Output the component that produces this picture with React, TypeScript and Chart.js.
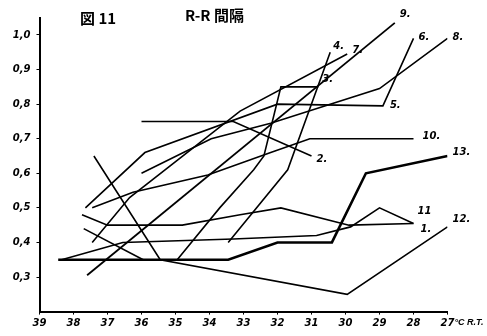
import { useEffect, useRef } from 'react';
import { Chart, registerables } from 'chart.js';
Chart.register(...registerables);

const X_TICKS = [39, 38, 37, 36, 35, 34, 33, 32, 31, 30, 29, 28, 27];
const Y_TICKS = [0.3, 0.4, 0.5, 0.6, 0.7, 0.8, 0.9, 1.0];

// [temperature °C, R-R interval s]
const LINE_1 = [[38.35, 0.35], [36.55, 0.40], [33.3, 0.41], [30.85, 0.42], [29.85, 0.445], [29.0, 0.50], [28.0, 0.455]];
const LINE_2 = [[36.0, 0.75], [33.3, 0.75], [31.0, 0.65]];
const LINE_3 = [[34.95, 0.35], [33.7, 0.50], [32.7, 0.61], [32.4, 0.65], [31.9, 0.85], [30.8, 0.85]];
const LINE_4 = [[33.45, 0.40], [31.7, 0.61], [30.45, 0.95]];
const LINE_X = [[37.7, 0.44], [35.95, 0.35]];
const LINE_6 = [[37.65, 0.50], [35.9, 0.66], [32.0, 0.80], [28.9, 0.795], [28.0, 0.99]];
const LINE_7 = [[37.45, 0.40], [36.35, 0.53], [33.1, 0.78], [29.95, 0.945]];
const LINE_8 = [[36.0, 0.60], [33.95, 0.70], [32.2, 0.745], [30.45, 0.80], [29.0, 0.845], [27.0, 0.99]];
const LINE_9 = [[37.6, 0.305], [28.55, 1.035]];
const LINE_10 = [[37.45, 0.50], [36.25, 0.545], [34.05, 0.595], [32.2, 0.66], [31.05, 0.70], [28.0, 0.70]];
const LINE_11 = [[37.75, 0.48], [37.0, 0.45], [34.8, 0.45], [33.1, 0.48], [31.9, 0.50], [29.9, 0.45], [28.0, 0.455]];
const LINE_12 = [[37.4, 0.65], [35.45, 0.35], [29.95, 0.25], [27.0, 0.445]];
const LINE_13 = [[38.45, 0.35], [33.45, 0.35], [32.0, 0.40], [30.4, 0.40], [29.4, 0.60], [27.0, 0.65]];

const SERIES = [LINE_1, LINE_2, LINE_3, LINE_4, LINE_X, LINE_6, LINE_7, LINE_8, LINE_9, LINE_10, LINE_11, LINE_12, LINE_13];
const WIDTHS = [1.6, 1.6, 1.6, 1.6, 1.6, 1.6, 1.6, 1.6, 1.8, 1.6, 1.6, 1.6, 2.6];

// line labels: text, dataset index, point index (-1 = last), pixel offset
const LABELS = [
  { text: '1.', ds: 0, pt: -1, dx: 7, dy: 6 },
  { text: '2.', ds: 1, pt: -1, dx: 5, dy: 3 },
  { text: '3.', ds: 2, pt: -1, dx: 4, dy: -7 },
  { text: '4.', ds: 3, pt: -1, dx: 3, dy: -6 },
  { text: '5.', ds: 5, pt: 3, dx: 7, dy: 0 },
  { text: '6.', ds: 5, pt: -1, dx: 5, dy: -1 },
  { text: '7.', ds: 6, pt: -1, dx: 5, dy: -4 },
  { text: '8.', ds: 7, pt: -1, dx: 5, dy: -1 },
  { text: '9.', ds: 8, pt: -1, dx: 5, dy: -8 },
  { text: '10.', ds: 9, pt: -1, dx: 9, dy: -2 },
  { text: '11', ds: 10, pt: -1, dx: 4, dy: -12 },
  { text: '12.', ds: 11, pt: -1, dx: 5, dy: -7 },
  { text: '13.', ds: 12, pt: -1, dx: 5, dy: -4 },
];

const TICK_FONT = { family: 'DejaVu Sans', size: 10, style: 'italic' as const, weight: 'bold' as const };

const annotations = {
  id: 'annotations',
  afterDatasetsDraw(chart: any) {
    const ctx = chart.ctx;
    ctx.save();
    ctx.fillStyle = '#000';
    ctx.textAlign = 'left';
    ctx.textBaseline = 'middle';
    ctx.font = 'italic bold 10px "DejaVu Sans"';
    LABELS.forEach((l) => {
      const pts = chart.getDatasetMeta(l.ds).data;
      const p = pts[l.pt < 0 ? pts.length + l.pt : l.pt];
      ctx.fillText(l.text, p.x + l.dx, p.y + l.dy);
    });
    const xs = chart.scales.x;
    ctx.font = 'italic bold 9px "Liberation Sans"';
    ctx.fillText('°C R.T.', xs.getPixelForValue(27) + 7, xs.top + 11);
    ctx.font = 'bold 15px "Noto Sans CJK JP"';
    ctx.fillText('図 11', 80, 18);
    ctx.fillText('R-R 間隔', 185, 15);
    ctx.restore();
  },
};

export default function App() {
  const ref = useRef<HTMLCanvasElement>(null);
  useEffect(() => {
    if (!ref.current) return;
    const chart = new Chart(ref.current, {
      type: 'scatter',
      data: {
        datasets: SERIES.map((s, i) => ({
          label: 'L' + i,
          data: s.map(([x, y]) => ({ x, y })),
          showLine: true,
          borderColor: '#000',
          backgroundColor: '#000',
          borderWidth: WIDTHS[i],
          pointRadius: 0,
          tension: 0,
        })),
      },
      options: {
        responsive: false,
        animation: false,
        layout: { padding: { left: 0, right: 39.5, top: 17.7, bottom: 0 } },
        plugins: { legend: { display: false }, tooltip: { enabled: false }, title: { display: false } },
        scales: {
          x: {
            type: 'linear',
            reverse: true,
            min: 27,
            max: 39,
            afterBuildTicks: (s: any) => { s.ticks = X_TICKS.map((v) => ({ value: v })); },
            afterFit: (s: any) => { s.height = 24.4; },
            ticks: { color: '#000', font: TICK_FONT, padding: 3, maxRotation: 0, autoSkip: false, callback: (v: any) => String(v) },
            grid: { display: true, drawOnChartArea: false, tickLength: 3, color: '#000', lineWidth: 1 },
            border: { display: true, color: '#000', width: 2 },
          },
          y: {
            type: 'linear',
            min: 0.2,
            max: 1.05,
            afterBuildTicks: (s: any) => { s.ticks = Y_TICKS.map((v) => ({ value: v })); },
            afterFit: (s: any) => { s.width = 39.5; },
            ticks: { color: '#000', font: TICK_FONT, padding: 6, autoSkip: false, callback: (v: any) => (Math.round(v * 10) / 10).toFixed(1).replace('.', ',') },
            grid: { display: true, drawOnChartArea: false, tickLength: 3, color: '#000', lineWidth: 1 },
            border: { display: true, color: '#000', width: 2 },
          },
        },
      },
      plugins: [annotations],
    });
    return () => chart.destroy();
  }, []);
  return (
    <div style={{ position: 'absolute', left: 0, top: 0, width: 487, height: 336, background: '#fff' }}>
      <canvas ref={ref} width={487} height={336} style={{ display: 'block' }} />
    </div>
  );
}
